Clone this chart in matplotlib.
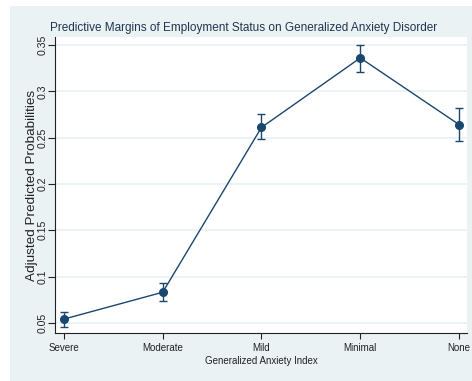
import matplotlib.pyplot as plt
from matplotlib.patches import Rectangle

# Predictive margins by anxiety category
categories = ['Severe', 'Moderate', 'Mild', 'Minimal', 'None']
margins = [0.054, 0.083, 0.261, 0.336, 0.264]
ci_low = [0.046, 0.074, 0.248, 0.321, 0.246]
ci_high = [0.062, 0.093, 0.276, 0.350, 0.282]
yticks = [0.05, 0.1, 0.15, 0.2, 0.25, 0.3, 0.35]
ytick_labels = ['0.05', '0.1', '0.15', '0.2', '0.25', '0.3', '0.35']

plt.rcParams['font.family'] = ['Liberation Sans', 'DejaVu Sans']

navy = '#1a476f'
bg = '#eaf2f3'

fig = plt.figure(figsize=(4.72, 3.81), dpi=100, facecolor='white')
fig.patches.append(Rectangle((10 / 472, 0.0), 1.0, 1 - 6 / 381,
                             transform=fig.transFigure, facecolor=bg,
                             edgecolor='none', zorder=-5))

ax = fig.add_axes([55 / 472, 1 - 333 / 381, 412 / 472, 296 / 381])
ax.set_facecolor('white')

x = list(range(1, len(categories) + 1))
yerr = [[m - lo for m, lo in zip(margins, ci_low)],
        [hi - m for m, hi in zip(margins, ci_high)]]
ax.errorbar(x, margins, yerr=yerr, color=navy, ecolor=navy, elinewidth=1.0,
            capsize=3, capthick=1.0, lw=1.0, marker='o', markersize=5.5,
            zorder=3, clip_on=False)

ax.set_xlim(0.91, 5.08)
ax.set_ylim(0.039, 0.3586)
ax.set_xticks(x)
ax.set_xticklabels(categories, fontsize=7, color='#222222')
ax.set_yticks(yticks)
ax.set_yticklabels(ytick_labels, fontsize=7.6, color='#222222',
                   rotation=90, va='center')
ax.yaxis.grid(True, color=bg, lw=1.3)
ax.set_axisbelow(True)

for side in ('top', 'right'):
    ax.spines[side].set_visible(False)
for side in ('left', 'bottom'):
    ax.spines[side].set_color('#222222')
    ax.spines[side].set_linewidth(0.8)
ax.tick_params(axis='x', length=4, width=0.8, color='#222222', pad=3)
ax.tick_params(axis='y', length=5, width=0.8, color='#222222', pad=0.5)

ax.set_xlabel('Generalized Anxiety Index', fontsize=7, color='#222222',
              labelpad=2)
ax.set_ylabel('Adjusted Predicted Probabilities', fontsize=9.7,
              color='#222222')
ax.yaxis.set_label_coords(-0.041, 0.5)
fig.text(0.515, 1 - 28 / 381,
         'Predictive Margins of Employment Status on Generalized Anxiety Disorder',
         ha='center', va='center', fontsize=8.5, color='#1e3550')

fig.savefig('out.png', dpi=100, facecolor='white')
